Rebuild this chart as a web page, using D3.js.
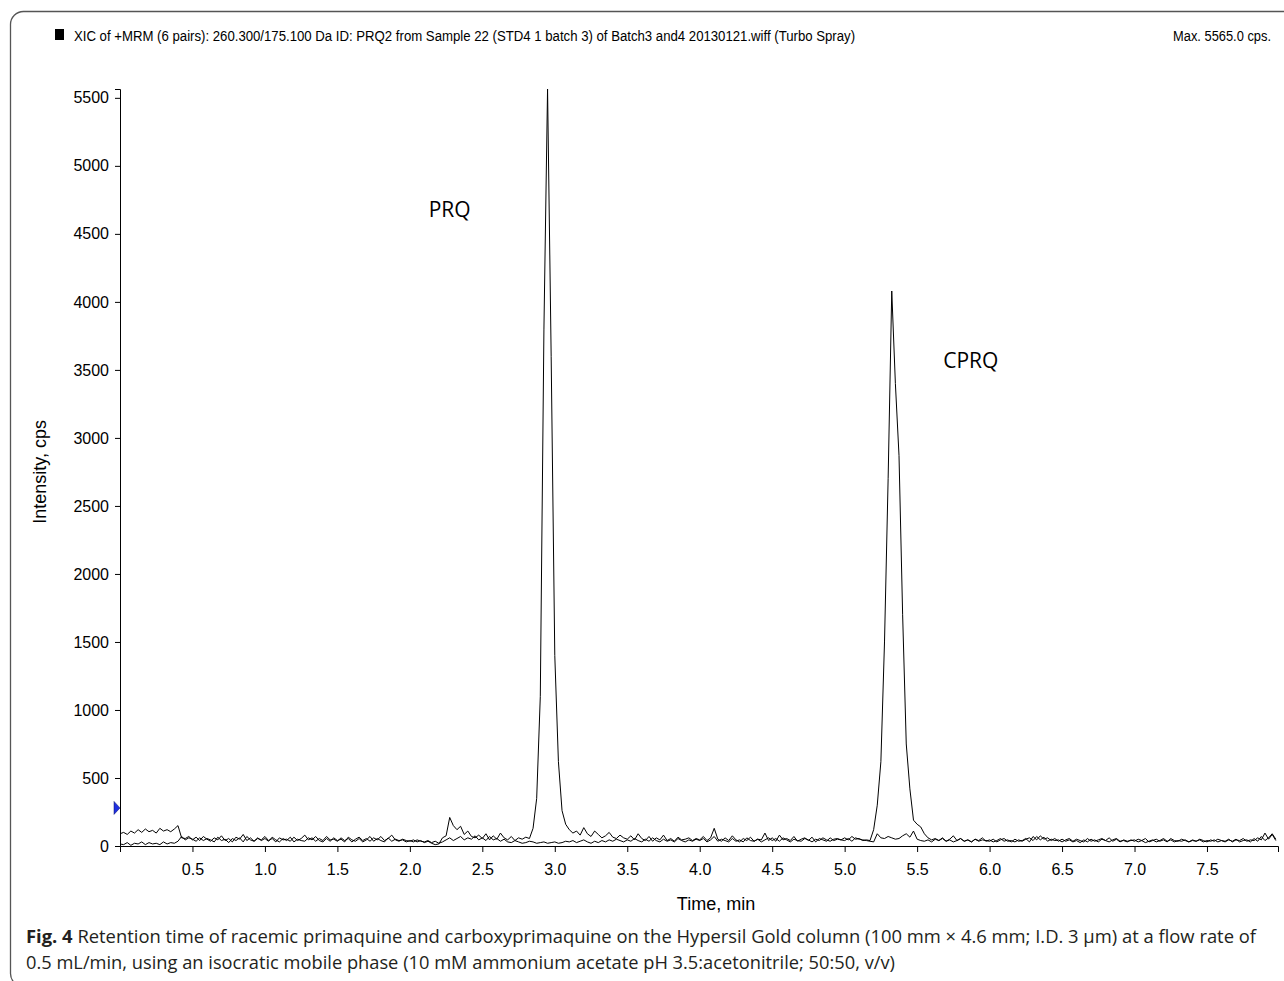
<!DOCTYPE html>
<html>
<head>
<meta charset="utf-8">
<script src="https://cdn.jsdelivr.net/npm/d3@7/dist/d3.min.js"></script>
<style>
  body { margin: 0; background: #fff; }
  svg text { fill: #000; }
</style>
</head>
<body>
<div id="chromatogram"></div>
<script>
// XIC chromatogram, two MRM traces (PRQ and CPRQ), one scan every 0.025 min from 0 min
var scanStep = 0.025;

// PRQ trace, 20 scans per row (0.5 min per row)
var prqCps = [
  90, 100, 85, 110, 95, 120, 100, 125, 105, 115, 95, 130, 110, 120, 105, 125, 150, 60, 55, 70,
  45, 65, 40, 70, 50, 35, 60, 45, 75, 40, 55, 30, 65, 50, 85, 40, 60, 35, 55, 45,
  70, 40, 55, 30, 60, 45, 50, 35, 65, 40, 55, 80, 45, 60, 35, 55, 40, 70, 45, 50,
  35, 60, 40, 55, 30, 50, 65, 40, 55, 35, 60, 45, 70, 40, 55, 80, 45, 35, 50, 40,
  35, 45, 30, 40, 25, 35, 20, 10, 15, 60, 75, 210, 150, 120, 145, 85, 110, 70, 60, 80,
  55, 90, 45, 75, 50, 95, 60, 45, 70, 40, 60, 50, 65, 55, 130, 350, 1100, 3800, 5565, 3600,
  1400, 620, 260, 160, 120, 95, 110, 80, 135, 90, 70, 110, 85, 60, 75, 100, 65, 55, 80, 60,
  50, 75, 45, 90, 55, 40, 70, 35, 60, 45, 80, 40, 55, 35, 65, 45, 50, 60, 40, 55,
  45, 70, 40, 60, 130, 50, 35, 60, 40, 75, 45, 30, 55, 40, 65, 35, 50, 45, 95, 40,
  60, 35, 80, 45, 55, 40, 70, 35, 50, 60, 40, 65, 30, 55, 45, 35, 60, 40, 50, 45,
  40, 55, 35, 60, 50, 45, 40, 35, 30, 90, 60, 55, 70, 60, 50, 55, 75, 90, 65, 110,
  50, 40, 35, 45, 30, 50, 40, 55, 35, 45, 30, 40, 55, 35, 45, 30, 50, 40, 60, 35,
  45, 30, 40, 55, 35, 45, 30, 50, 35, 40, 55, 30, 70, 45, 75, 50, 60, 40, 55, 35,
  50, 35, 45, 30, 40, 25, 45, 30, 50, 35, 45, 55, 40, 60, 35, 50, 30, 45, 35, 40,
  45, 30, 40, 25, 35, 45, 30, 40, 55, 35, 45, 30, 40, 35, 45, 30, 40, 35, 45, 30,
  40, 35, 45, 30, 40, 35, 50, 30, 45, 40, 55, 35, 45, 40, 60, 45, 95, 50, 85, 40
];

// CPRQ trace
var cprqCps = [
  15, 10, 25, 5, 20, 15, 30, 10, 25, 15, 20, 10, 30, 15, 25, 20, 35, 70, 45, 60,
  50, 35, 60, 40, 55, 45, 30, 65, 40, 50, 25, 55, 40, 60, 30, 70, 45, 35, 60, 40,
  55, 35, 65, 45, 30, 55, 40, 65, 30, 50, 40, 35, 60, 45, 70, 40, 30, 55, 35, 60,
  40, 50, 30, 65, 45, 35, 55, 30, 45, 70, 35, 55, 40, 30, 60, 35, 50, 40, 45, 30,
  40, 30, 45, 35, 30, 40, 25, 35, 20, 30, 45, 60, 40, 55, 70, 45, 60, 50, 75, 45,
  60, 40, 70, 45, 55, 35, 50, 30, 25, 40, 30, 20, 25, 35, 30, 20, 25, 30, 20, 25,
  30, 20, 25, 35, 30, 40, 25, 35, 45, 30, 20, 35, 25, 40, 30, 45, 35, 50, 40, 30,
  45, 35, 55, 40, 30, 50, 35, 60, 40, 30, 50, 35, 45, 30, 55, 40, 30, 45, 35, 50,
  40, 55, 30, 45, 70, 35, 50, 40, 30, 55, 35, 45, 30, 60, 40, 35, 50, 30, 45, 60,
  40, 55, 35, 60, 45, 30, 50, 40, 35, 55, 45, 30, 50, 40, 60, 45, 35, 50, 55, 45,
  60, 45, 70, 50, 55, 40, 45, 40, 120, 300, 620, 1500, 2700, 4080, 3400, 2870, 1700, 750, 420, 190,
  160, 140, 90, 60, 45, 55, 40, 60, 35, 50, 75, 40, 55, 35, 45, 30, 50, 35, 45, 40,
  35, 50, 30, 45, 55, 35, 40, 30, 45, 35, 50, 60, 40, 70, 45, 65, 35, 50, 40, 45,
  30, 45, 55, 35, 50, 40, 30, 55, 35, 45, 30, 50, 40, 30, 45, 55, 35, 40, 30, 45,
  35, 50, 40, 55, 30, 40, 50, 35, 45, 30, 55, 40, 35, 50, 40, 30, 45, 35, 50, 40,
  30, 45, 35, 50, 40, 30, 45, 35, 50, 30, 40, 45, 30, 55, 35, 70, 40, 60, 90, 50
];

var yTicks = [0, 500, 1000, 1500, 2000, 2500, 3000, 3500, 4000, 4500, 5000, 5500];
var xTicks = [0.5, 1.0, 1.5, 2.0, 2.5, 3.0, 3.5, 4.0, 4.5, 5.0, 5.5, 6.0, 6.5, 7.0, 7.5];
var peakNames = ["PRQ", "CPRQ"];
var peakLabelAt = [[2.13, 4625], [5.68, 3515]]; // time, cps at the label's baseline start
var maxCps = 5565.0;
var markerCps = 280;

var headerText = "XIC of +MRM (6 pairs): 260.300/175.100 Da ID: PRQ2 from Sample 22 (STD4 1 batch 3) of Batch3 and4 20130121.wiff (Turbo Spray)";
var captionLine1 = "Retention time of racemic primaquine and carboxyprimaquine on the Hypersil Gold column (100 mm \u00d7 4.6 mm; I.D. 3 \u03bcm) at a flow rate of";
var captionLine2 = "0.5 mL/min, using an isocratic mobile phase (10 mM ammonium acetate pH 3.5:acetonitrile; 50:50, v/v)";

var W = 1284, H = 981;
var margin = {t: 89, r: 6, b: 135, l: 120};

var svg = d3.select("#chromatogram")
  .append("svg")
  .attr("width", W)
  .attr("height", H);

// frame round the whole figure (right and bottom edges run off the page)
svg.append("rect")
  .attr("x", 10.5).attr("y", 11.5)
  .attr("width", 1300).attr("height", 975)
  .attr("rx", 13)
  .style("fill", "none")
  .style("stroke", "#555")
  .style("stroke-width", 1.3);

var x = d3.scaleLinear().domain([0, 7.99]).range([margin.l, W - margin.r]);
var y = d3.scaleLinear().domain([0, maxCps]).range([H - margin.b, margin.t]);

// squeeze a text sideways so it takes the given width (narrow font look of the header)
function squeeze(g, width) {
  var t = g.select("text");
  var w = t.node().getComputedTextLength();
  t.attr("transform", "scale(" + (width / w) + ",1)");
}

// header
svg.append("rect")
  .attr("x", 55).attr("y", 29).attr("width", 9).attr("height", 11)
  .style("fill", "#000");
var head = svg.append("g").attr("transform", "translate(74,41)");
head.append("text")
  .style("font-family", "Liberation Sans, Arial, sans-serif")
  .style("font-size", "15.5px")
  .text(headerText);
squeeze(head, 782);

var maxLabel = svg.append("g").attr("transform", "translate(1271,41)");
maxLabel.append("text")
  .attr("text-anchor", "end")
  .style("font-family", "Liberation Sans, Arial, sans-serif")
  .style("font-size", "15.5px")
  .text("Max. " + d3.format(".1f")(maxCps) + " cps.");
squeeze(maxLabel, 98);

// axes
var yAxis = d3.axisLeft(y).tickValues(yTicks).tickSize(5).tickPadding(6).tickFormat(d3.format("d"));
var yMinor = d3.axisLeft(y).tickValues(d3.range(0, 5600, 100)).tickSize(2).tickFormat("");
var xAxis = d3.axisBottom(x).tickValues(xTicks).tickSize(6).tickPadding(12).tickFormat(d3.format(".1f"));
var xMinor = d3.axisBottom(x).tickValues(d3.range(1, 80).map(function(d){ return d / 10; })).tickSize(3).tickFormat("");

var gy = svg.append("g").attr("transform", "translate(" + margin.l + ",0)");
gy.call(yMinor);
gy.call(yAxis);
var gx = svg.append("g").attr("transform", "translate(0," + y(0) + ")");
gx.call(xMinor);
gx.call(xAxis);

svg.selectAll(".domain").style("stroke", "#000").style("stroke-width", 1);
svg.selectAll(".tick line").style("stroke", "#000");
svg.selectAll(".tick text")
  .style("font-family", "Liberation Sans, Arial, sans-serif")
  .style("font-size", "16px")
  .style("fill", "#000");

// axis titles
svg.append("text")
  .attr("transform", "translate(46," + ((y(0) + y(5500)) / 2) + ") rotate(-90)")
  .attr("text-anchor", "middle")
  .style("font-family", "Liberation Sans, Arial, sans-serif")
  .style("font-size", "18px")
  .text("Intensity, cps");
svg.append("text")
  .attr("x", 716).attr("y", 910)
  .attr("text-anchor", "middle")
  .style("font-family", "Liberation Sans, Arial, sans-serif")
  .style("font-size", "18px")
  .text("Time, min");

// traces
var line = d3.line()
  .x(function(d, i) { return x(i * scanStep); })
  .y(function(d) { return y(d); });

[cprqCps, prqCps].forEach(function(trace) {
  svg.append("path")
    .datum(trace)
    .attr("d", line)
    .style("fill", "none")
    .style("stroke", "#000")
    .style("stroke-width", 1)
    .style("stroke-linejoin", "miter");
});

// peak labels
svg.selectAll(".peakName")
  .data(peakNames)
  .enter()
  .append("text")
  .attr("class", "peakName")
  .attr("x", function(d, i) { return x(peakLabelAt[i][0]); })
  .attr("y", function(d, i) { return y(peakLabelAt[i][1]); })
  .style("font-family", "Open Sans, Noto Sans, sans-serif")
  .style("font-size", "21px")
  .text(function(d) { return d; });

// little blue marker on the y axis
svg.append("path")
  .attr("d", "M-6,-6.5L0,0L-6,6.5Z")
  .attr("transform", "translate(" + margin.l + "," + y(markerCps) + ")")
  .style("fill", "#1f2fe0")
  .style("stroke", "#0a106a")
  .style("stroke-width", 0.5);

// caption
var cap1 = svg.append("text")
  .attr("x", 26).attr("y", 943)
  .attr("textLength", 1230).attr("lengthAdjust", "spacingAndGlyphs")
  .style("font-family", "Open Sans, Noto Sans, sans-serif")
  .style("font-size", "18px")
  .style("fill", "#231f20");
cap1.append("tspan").style("font-weight", "bold").text("Fig. 4");
cap1.append("tspan").text("  " + captionLine1);

svg.append("text")
  .attr("x", 26).attr("y", 969)
  .attr("textLength", 869).attr("lengthAdjust", "spacingAndGlyphs")
  .style("font-family", "Open Sans, Noto Sans, sans-serif")
  .style("font-size", "18px")
  .style("fill", "#231f20")
  .text(captionLine2);
</script>
</body>
</html>
